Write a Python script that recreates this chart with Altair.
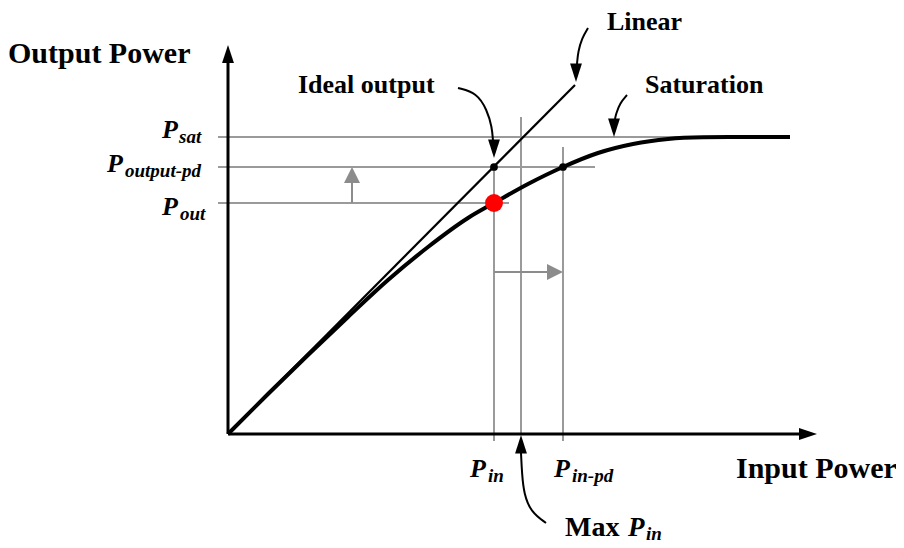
import altair as alt
import pandas as pd

# ---- canvas (1 data unit = 1 px, origin at the axes corner) ----
W, H = 888, 536
X0, Y0 = 220, 426

# ---- diagram levels ----
P_SAT = 297
P_OUT_PD = 267
P_OUT = 231
P_IN = 266
MAX_P_IN = 293
P_IN_PD = 335

# saturation (power amplifier) curve
curve_x = [0, 40, 80, 120, 160, 200, 240, 266, 300, 335, 370, 405, 440, 475, 510, 562]
curve_y = [0, 40, 79, 117, 154, 187, 216, 231, 250, 267, 281, 290, 295, 296.7, 297, 297]

# ideal linear response
linear_x = [0, 347]
linear_y = [0, 349]

# gray guide lines
hline_y = [P_SAT, P_OUT_PD, P_OUT]
hline_x1 = [-10, -10, -10]
hline_x2 = [562, 367, 281]
vline_x = [P_IN, MAX_P_IN, P_IN_PD]
vline_y1 = [-7, 0, -7]
vline_y2 = [267, 317, 287]

# axes shafts
axis_x1 = [0, 0]
axis_y1 = [0, 0]
axis_x2 = [572, 0]
axis_y2 = [0, 372]

# gray arrow shafts
gshaft_x1 = [124, 266]
gshaft_y1 = [231, 162]
gshaft_x2 = [124, 320]
gshaft_y2 = [252, 162]

# curved annotation arrows
note_group = ["ideal"] * 5 + ["linear"] * 4 + ["sat"] * 4 + ["max"] * 5
note_x = [230, 249, 259, 264, 265,
          360, 354, 350, 349,
          399, 392, 388, 387,
          318, 303, 296, 294, 293]
note_y = [346, 341, 324, 307, 293,
          406, 396, 382, 370,
          339, 331, 320, 315,
          -89, -78, -60, -40, -19]

# arrow heads (tip positions)
head_x = [0, 589, 124, 335, 266, 348, 386, 293]
head_y = [389, 0, 267, 162, 276, 352, 297, -1]
head_dir = ["up", "right", "up", "right", "down", "down", "down", "up"]
head_kind = ["axis", "axis", "gray", "gray", "note", "note", "note", "note"]

# marked points
dot_x = [266, 335, 266]
dot_y = [267, 267, 231]
dot_color = ["black", "black", "#ff0000"]
dot_size = [60, 60, 320]

# bold labels
label_text = ["Output Power", "Input Power", "Linear", "Ideal output", "Saturation", "Max"]
label_x = [-220, 508, 379, 70, 417, 337]
label_y = [371, -44, 404, 341, 341, -102]
label_size = [30, 30, 26, 26, 26, 28]

# italic symbol labels (P with subscripts)
sym_text = ["P", "sat", "P", "output-pd", "P", "out", "P", "in", "P", "in-pd", "P", "in"]
sym_x = [-66, -49, -121, -103, -66, -48, 242, 260, 326, 344, 400, 418]
sym_y = [296, 291, 262, 257, 219, 214, -43, -48, -43, -48, -102, -106]
sym_size = [26, 19, 26, 19, 26, 19, 26, 19, 26, 19, 27, 19]

FONT = "Liberation Serif"

xs = alt.Scale(domain=[-X0, W - X0], nice=False, zero=False)
ys = alt.Scale(domain=[-(H - Y0), Y0], nice=False, zero=False)


def X(f, t="Q"):
    return alt.X(f"{f}:{t}", scale=xs, axis=None)


def Y(f, t="Q"):
    return alt.Y(f"{f}:{t}", scale=ys, axis=None)


# paths: tip at the anchor point
shape_paths = {
    ("axis", "up"): "M0,0 L-0.33,1 L0.33,1 Z",
    ("axis", "right"): "M0,0 L-1,-0.33 L-1,0.33 Z",
    ("gray", "up"): "M0,0 L-0.5,1 L0.5,1 Z",
    ("gray", "right"): "M0,0 L-1,-0.5 L-1,0.5 Z",
    ("note", "down"): "M0,0 L-0.32,-1 L0.32,-1 Z",
    ("note", "up"): "M0,0 L-0.32,1 L0.32,1 Z",
}
kind_size = {"axis": 1296, "gray": 1024, "note": 1369}
kind_color = {"axis": "black", "gray": "#8c8c8c", "note": "black"}

heads = pd.DataFrame({
    "x": head_x, "y": head_y,
    "path": [shape_paths[(k, d)] for k, d in zip(head_kind, head_dir)],
    "size": [kind_size[k] for k in head_kind],
    "color": [kind_color[k] for k in head_kind],
})

hl = pd.DataFrame({"y": hline_y, "x1": hline_x1, "x2": hline_x2})
vl = pd.DataFrame({"x": vline_x, "y1": vline_y1, "y2": vline_y2})
ax = pd.DataFrame({"x1": axis_x1, "y1": axis_y1, "x2": axis_x2, "y2": axis_y2})
gs = pd.DataFrame({"x1": gshaft_x1, "y1": gshaft_y1, "x2": gshaft_x2, "y2": gshaft_y2})
cv = pd.DataFrame({"x": curve_x, "y": curve_y})
ln = pd.DataFrame({"x": linear_x, "y": linear_y})
nt = pd.DataFrame({"g": note_group, "x": note_x, "y": note_y, "o": list(range(len(note_x)))})
dots = pd.DataFrame({"x": dot_x, "y": dot_y, "c": dot_color, "s": dot_size})
labels = pd.DataFrame({"t": label_text, "x": label_x, "y": label_y, "s": label_size})
syms = pd.DataFrame({"t": sym_text, "x": sym_x, "y": sym_y, "s": sym_size})

gray = "#9a9a9a"

l_h = alt.Chart(hl).mark_rule(color=gray, strokeWidth=2).encode(
    x=X("x1"), x2="x2", y=Y("y"))
l_v = alt.Chart(vl).mark_rule(color=gray, strokeWidth=2).encode(
    x=X("x"), y=Y("y1"), y2="y2")
l_ax = alt.Chart(ax).mark_rule(color="black", strokeWidth=3).encode(
    x=X("x1"), y=Y("y1"), x2="x2", y2="y2")
l_gs = alt.Chart(gs).mark_rule(color="#8c8c8c", strokeWidth=2).encode(
    x=X("x1"), y=Y("y1"), x2="x2", y2="y2")
l_lin = alt.Chart(ln).mark_line(color="black", strokeWidth=2.2).encode(
    x=X("x"), y=Y("y"))
l_cv = alt.Chart(cv).mark_line(color="black", strokeWidth=4, interpolate="monotone").encode(
    x=X("x"), y=Y("y"))
l_nt = alt.Chart(nt).mark_line(color="black", strokeWidth=2, interpolate="basis").encode(
    x=X("x"), y=Y("y"), detail="g:N", order="o:Q")
l_heads = alt.Chart(heads).mark_point(filled=True, opacity=1, strokeWidth=0).encode(
    x=X("x"), y=Y("y"),
    shape=alt.Shape("path:N", scale=None),
    size=alt.Size("size:Q", scale=None),
    color=alt.Color("color:N", scale=None))
l_dots = alt.Chart(dots).mark_circle(opacity=1).encode(
    x=X("x"), y=Y("y"),
    size=alt.Size("s:Q", scale=None),
    color=alt.Color("c:N", scale=None))
l_labels = alt.Chart(labels).mark_text(
    font=FONT, fontWeight="bold", align="left", baseline="alphabetic", color="black"
).encode(x=X("x"), y=Y("y"), text="t:N", size=alt.Size("s:Q", scale=None))
l_syms = alt.Chart(syms).mark_text(
    font=FONT, fontWeight="bold", fontStyle="italic", align="left",
    baseline="alphabetic", color="black"
).encode(x=X("x"), y=Y("y"), text="t:N", size=alt.Size("s:Q", scale=None))

chart = alt.layer(
    l_h, l_v, l_gs, l_lin, l_cv, l_ax, l_nt, l_heads, l_dots, l_labels, l_syms
).properties(
    width=W, height=H, padding=0, autosize=alt.AutoSizeParams(type="none"),
    background="white"
).configure_view(stroke=None, strokeWidth=0)

chart.save("out.html", embed_options={"renderer": "svg", "actions": False})
